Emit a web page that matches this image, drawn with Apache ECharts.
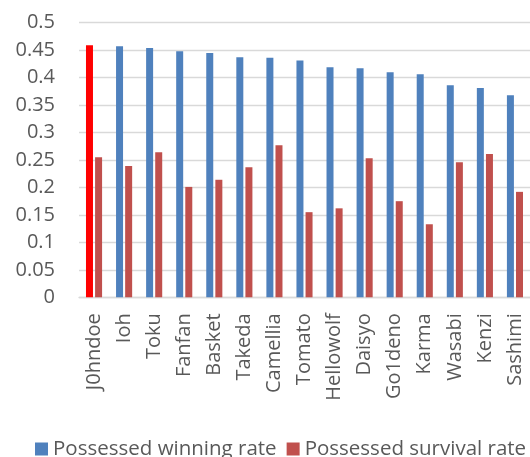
<!DOCTYPE html>
<html>
<head>
<meta charset="utf-8">
<script src="https://cdn.jsdelivr.net/npm/echarts@6/dist/echarts.min.js"></script>
<style>
  html, body { margin: 0; padding: 0; background: #fff; }
  #chart { width: 530px; height: 457px; }
</style>
</head>
<body>
<div id="chart"></div>
<script>
// Player names along the x axis
const players = ['J0hndoe', 'Ioh', 'Toku', 'Fanfan', 'Basket', 'Takeda', 'Camellia',
  'Tomato', 'Hellowolf', 'Daisyo', 'Go1deno', 'Karma', 'Wasabi', 'Kenzi', 'Sashimi'];

// Rates per player
const winningRate = [0.459, 0.457, 0.454, 0.448, 0.445, 0.437, 0.436,
  0.431, 0.419, 0.417, 0.410, 0.406, 0.386, 0.381, 0.368];
const survivalRate = [0.255, 0.239, 0.264, 0.201, 0.214, 0.237, 0.277,
  0.155, 0.162, 0.253, 0.175, 0.133, 0.246, 0.261, 0.192];

const seriesNames = ['Possessed winning rate', 'Possessed survival rate'];
const highlighted = 'J0hndoe';

const BLUE = '#4F81BD';
const RED = '#C0504D';
const FONT = 'Open Sans';
const TEXT = '#595959';
const FONT_SIZE = 20;

const winningData = winningRate.map((v, i) =>
  players[i] === highlighted ? { value: v, itemStyle: { color: '#FF0000' } } : v);

const chart = echarts.init(document.getElementById('chart'));
chart.setOption({
  animation: false,
  grid: { left: 79, right: -4, top: 22.7, bottom: 159.7, containLabel: false },
  legend: {
    data: seriesNames,
    left: 35,
    top: 437,
    padding: 0,
    itemWidth: 13,
    itemHeight: 13,
    itemGap: 10,
    icon: 'rect',
    textStyle: { color: TEXT, fontSize: 20.5, fontFamily: FONT, lineHeight: 24 }
  },
  xAxis: {
    type: 'category',
    data: players,
    axisLine: { lineStyle: { color: '#D9D9D9', width: 1.3 } },
    axisTick: { show: false },
    axisLabel: {
      rotate: 90,
      margin: 16,
      interval: 0,
      color: TEXT,
      fontSize: FONT_SIZE,
      fontFamily: FONT
    }
  },
  yAxis: {
    type: 'value',
    min: 0,
    max: 0.5,
    interval: 0.05,
    axisLine: { show: false },
    axisTick: { show: false },
    axisLabel: {
      margin: 24,
      color: TEXT,
      fontSize: FONT_SIZE,
      fontFamily: FONT,
      formatter: v => String(Math.round(v * 100) / 100)
    },
    splitLine: { lineStyle: { color: '#D9D9D9', width: 1.3 } }
  },
  series: [
    {
      name: seriesNames[0],
      type: 'bar',
      data: winningData,
      barWidth: 7,
      barGap: '30%',
      itemStyle: { color: BLUE }
    },
    {
      name: seriesNames[1],
      type: 'bar',
      data: survivalRate,
      barWidth: 7,
      barGap: '30%',
      itemStyle: { color: RED }
    }
  ]
});
</script>
</body>
</html>
